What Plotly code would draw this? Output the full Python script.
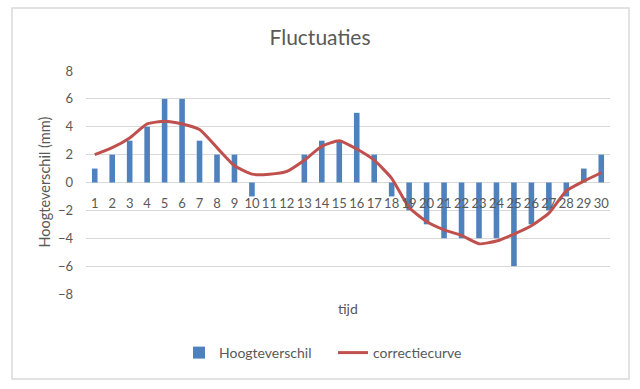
import plotly.graph_objects as go

categories = [str(i) for i in range(1, 31)]
hoogteverschil = [1, 2, 3, 4, 6, 6, 3, 2, 2, -1, 0, 0, 2, 3, 3, 5, 2, -1, -2, -3,
                  -4, -4, -4, -4, -6, -3, -2, -1, 1, 2]
correctiecurve = [2.0, 2.5, 3.2, 4.2, 4.4, 4.2, 3.8, 2.5, 1.2, 0.6, 0.6, 0.8, 1.6, 2.6, 3.0,
                  2.4, 1.6, 0.3, -1.8, -2.8, -3.4, -3.8, -4.4, -4.2, -3.7, -3.1, -2.2, -0.6,
                  0.1, 0.7]
y_ticks = [-8, -6, -4, -2, 0, 2, 4, 6, 8]

TXT = "#595959"
FONT = "Lato"

fig = go.Figure()
fig.add_trace(go.Bar(x=categories, y=hoogteverschil, name="Hoogteverschil",
                     marker=dict(color="#4F81BD", line=dict(width=0)), width=0.32))
fig.add_trace(go.Scatter(x=categories, y=correctiecurve, name="correctiecurve", mode="lines",
                         line=dict(color="#C0504D", width=3, shape="spline", smoothing=0.5)))

fig.update_layout(
    width=640, height=389,
    margin=dict(l=86, r=30, t=71, b=95),
    paper_bgcolor="white", plot_bgcolor="white",
    font=dict(family=FONT, color=TXT, size=13),
    title=dict(text="Fluctuaties", x=0.5, xanchor="center", xref="container",
               y=1 - 38 / 389, yanchor="middle", yref="container",
               font=dict(size=21, color=TXT, family=FONT)),
    showlegend=True,
    legend=dict(orientation="h", x=(179 - 86) / 524, xanchor="left", y=-0.2646,
                yanchor="middle", entrywidth=109,
                font=dict(size=14, color=TXT), bgcolor="rgba(0,0,0,0)"),
    bargap=0.68,
)
fig.update_yaxes(range=[-8, 8], tickvals=y_ticks, showgrid=True, gridcolor="#D9D9D9",
                 gridwidth=1, zeroline=True, zerolinecolor="#D9D9D9", zerolinewidth=1,
                 showline=False, ticks="", ticklabelstandoff=12,
                 tickfont=dict(size=13, color=TXT), domain=[0, 1], fixedrange=True)
fig.update_xaxes(type="category", anchor="free", position=0.5, showgrid=False, zeroline=False,
                 showline=False, ticks="outside", ticklen=9, tickcolor="rgba(0,0,0,0)",
                 tickfont=dict(size=13, color=TXT), range=[-0.5, 29.5], fixedrange=True)

# y axis title and x axis title
fig.add_annotation(text="Hoogteverschil (mm)", xref="paper", yref="paper",
                   x=(44 - 86) / 524, y=0.5, textangle=-90, showarrow=False,
                   xanchor="center", yanchor="middle", font=dict(size=14.5, color=TXT))
fig.add_annotation(text="tijd", xref="paper", yref="paper", x=0.5, y=(294 - 308) / 223,
                   showarrow=False, xanchor="center", yanchor="middle",
                   font=dict(size=14, color=TXT))

# chart border
fig.add_shape(type="rect", xref="paper", yref="paper",
              x0=(12 - 86) / 524, x1=(629 - 86) / 524,
              y0=(294 - 379) / 223, y1=(294 - 8) / 223,
              line=dict(color="#D9D9D9", width=1.5), fillcolor="rgba(0,0,0,0)", layer="below")

fig.write_html("out.html", config={"displayModeBar": False},
               post_script="document.body.style.margin='0';")
